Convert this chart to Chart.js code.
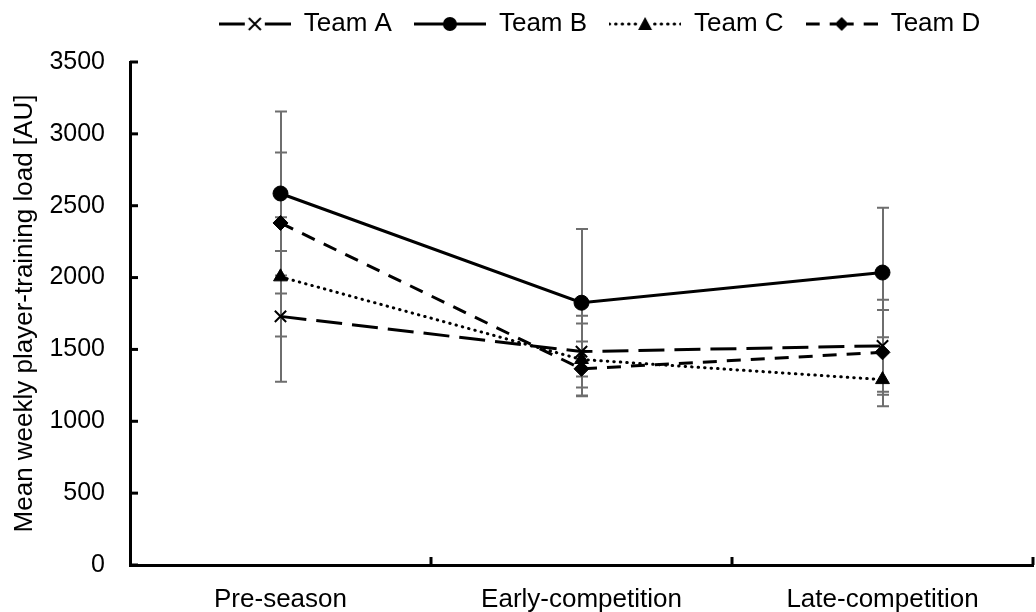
<!DOCTYPE html>
<html>
<head>
<meta charset="utf-8">
<title>Mean weekly player-training load</title>
<script src="https://cdn.jsdelivr.net/npm/chart.js@4.4.0/dist/chart.umd.min.js"></script>
<style>
  html, body { margin: 0; padding: 0; background: #fff; }
</style>
</head>
<body>
<canvas id="loadChart" width="1036" height="612"></canvas>
<script>
// data
const phases = ['Pre-season', 'Early-competition', 'Late-competition'];
const teamNames = ['Team A', 'Team B', 'Team C', 'Team D'];

const teamA = [1730, 1485, 1525];
const teamB = [2585, 1825, 2035];
const teamC = [2005, 1430, 1290];
const teamD = [2380, 1365, 1480];

// +/- SD
const teamAErr = [455, 250, 320];
const teamBErr = [570, 513, 450];
const teamCErr = [415, 250, 185];
const teamDErr = [490, 190, 295];

const yMin = 0;
const yMax = 3500;
const yStep = 500;

const FONT = "'Liberation Sans', Arial, sans-serif";

// line + marker sample for the legend, drawn on a small canvas
function legendSample(dash, marker) {
    const c = document.createElement('canvas');
    c.width = 72;
    c.height = 22;
    const g = c.getContext('2d');
    const cx = 36, cy = 11;
    g.strokeStyle = '#000';
    g.lineWidth = 3;
    g.lineCap = dash.length && dash[0] < 2 ? 'round' : 'butt';
    g.setLineDash(dash);
    // draw each half from the outer end towards the marker
    g.beginPath(); g.moveTo(0, cy); g.lineTo(cx - 6, cy); g.stroke();
    g.beginPath(); g.moveTo(72, cy); g.lineTo(cx + 6, cy); g.stroke();
    g.setLineDash([]);
    g.fillStyle = '#000';
    g.beginPath();
    if (marker === 'cross') {
        g.lineWidth = 2;
        g.moveTo(cx - 6, cy - 6); g.lineTo(cx + 6, cy + 6);
        g.moveTo(cx + 6, cy - 6); g.lineTo(cx - 6, cy + 6);
        g.stroke();
    } else if (marker === 'circle') {
        g.arc(cx, cy, 7, 0, Math.PI * 2);
        g.fill();
    } else if (marker === 'triangle') {
        g.moveTo(cx, cy - 7); g.lineTo(cx + 7, cy + 6); g.lineTo(cx - 7, cy + 6);
        g.closePath(); g.fill();
    } else {
        g.moveTo(cx, cy - 7); g.lineTo(cx + 7, cy); g.lineTo(cx, cy + 7); g.lineTo(cx - 7, cy);
        g.closePath(); g.fill();
    }
    return c;
}

const seriesStyles = [
    { dash: [26, 10], pointStyle: 'crossRot', marker: 'cross', radius: 8 },
    { dash: [], pointStyle: 'circle', marker: 'circle', radius: 7.5 },
    { dash: [0.5, 6], pointStyle: 'triangle', marker: 'triangle', radius: 8 },
    { dash: [14, 10], pointStyle: 'rectRot', marker: 'diamond', radius: 7.5 }
];
const seriesValues = [teamA, teamB, teamC, teamD];
const seriesErrors = [teamAErr, teamBErr, teamCErr, teamDErr];

const datasets = teamNames.map(function (name, i) {
    const s = seriesStyles[i];
    return {
        label: name,
        data: seriesValues[i],
        errors: seriesErrors[i],
        borderColor: '#000',
        backgroundColor: '#000',
        borderWidth: 3,
        borderDash: s.dash,
        borderCapStyle: s.dash.length && s.dash[0] < 2 ? 'round' : 'butt',
        pointStyle: s.pointStyle,
        pointRadius: s.radius,
        pointBorderWidth: s.pointStyle === 'crossRot' ? 2 : 1,
        pointBackgroundColor: '#000',
        pointBorderColor: '#000',
        tension: 0,
        fill: false,
        legendImage: legendSample(s.dash, s.marker)
    };
});

// error bars behind the lines
const errorBars = {
    id: 'errorBars',
    beforeDatasetsDraw(chart) {
        const ctx = chart.ctx;
        const xs = chart.scales.x, ys = chart.scales.y;
        ctx.save();
        ctx.strokeStyle = '#6e6e6e';
        ctx.lineWidth = 2;
        chart.data.datasets.forEach(function (ds) {
            ds.data.forEach(function (v, j) {
                const x = Math.round(xs.getPixelForValue(j));
                const top = ys.getPixelForValue(v + ds.errors[j]);
                const bot = ys.getPixelForValue(v - ds.errors[j]);
                ctx.beginPath();
                ctx.moveTo(x, top); ctx.lineTo(x, bot);
                ctx.moveTo(x - 6, top); ctx.lineTo(x + 6, top);
                ctx.moveTo(x - 6, bot); ctx.lineTo(x + 6, bot);
                ctx.stroke();
            });
        });
        ctx.restore();
    }
};

// inward tick marks like the original
const innerTicks = {
    id: 'innerTicks',
    afterDraw(chart) {
        const ctx = chart.ctx;
        const area = chart.chartArea;
        const xs = chart.scales.x, ys = chart.scales.y;
        ctx.save();
        ctx.strokeStyle = '#000';
        ctx.lineWidth = 3;
        ys.ticks.forEach(function (t) {
            const y = ys.getPixelForValue(t.value);
            ctx.beginPath();
            ctx.moveTo(area.left, y); ctx.lineTo(area.left + 8, y);
            ctx.stroke();
        });
        for (let i = 1; i <= phases.length; i++) {
            const x = xs.getPixelForValue(i - 0.5);
            ctx.beginPath();
            ctx.moveTo(x, area.bottom); ctx.lineTo(x, area.bottom - 8);
            ctx.stroke();
        }
        ctx.restore();
    }
};

// nudge the legend to where it sits in the figure
const legendShift = {
    id: 'legendShift',
    afterLayout(chart) {
        const lg = chart.legend;
        lg.left += 18; lg.right += 18;
        lg.top -= 15; lg.bottom -= 15;
    }
};

new Chart(document.getElementById('loadChart').getContext('2d'), {
    type: 'line',
    data: { labels: phases, datasets: datasets },
    options: {
        responsive: false,
        animation: false,
        layout: { autoPadding: false, padding: { top: 4, right: 3, left: 0, bottom: 0 } },
        plugins: {
            legend: {
                position: 'top',
                fullSize: false,
                labels: {
                    usePointStyle: true,
                    pointStyleWidth: 72,
                    padding: 22,
                    color: '#000',
                    font: { family: FONT, size: 26 },
                    generateLabels: function (chart) {
                        return chart.data.datasets.map(function (ds, i) {
                            return {
                                text: ds.label,
                                pointStyle: ds.legendImage,
                                fillStyle: '#000',
                                strokeStyle: '#000',
                                lineWidth: 0,
                                fontColor: '#000',
                                datasetIndex: i,
                                hidden: false
                            };
                        });
                    }
                }
            },
            tooltip: { enabled: false }
        },
        scales: {
            x: {
                offset: true,
                grid: { display: false },
                border: { display: true, color: '#000', width: 3 },
                ticks: {
                    color: '#000',
                    padding: 11,
                    font: { family: FONT, size: 26 }
                },
                afterFit: function (scale) {
                    scale.height = 47;
                    scale.paddingLeft = 0;
                    scale.paddingRight = 0;
                }
            },
            y: {
                min: yMin,
                max: yMax,
                grid: { display: false },
                border: { display: true, color: '#000', width: 3 },
                ticks: {
                    stepSize: yStep,
                    color: '#000',
                    padding: 17,
                    font: { family: FONT, size: 25 },
                    callback: function (value) { return String(value); }
                },
                title: {
                    display: true,
                    text: 'Mean weekly player-training load [AU]',
                    color: '#000',
                    padding: { top: 9, bottom: 0 },
                    font: { family: FONT, size: 26 }
                },
                afterFit: function (scale) { scale.width = 130; }
            }
        }
    },
    plugins: [errorBars, innerTicks, legendShift]
});
</script>
</body>
</html>
